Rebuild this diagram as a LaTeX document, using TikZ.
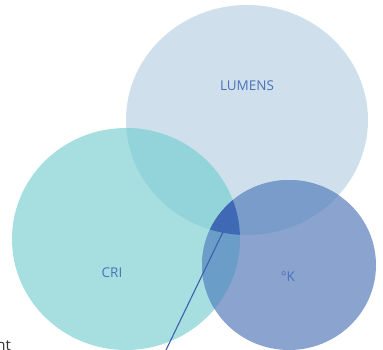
\documentclass[tikz,border=0pt]{standalone}
\usepackage{fontspec}
\setmainfont{Open Sans}
\definecolor{lonly}{HTML}{CFE0EC}
\definecolor{conly}{HTML}{A7DFE1}
\definecolor{konly}{HTML}{8BA3CF}
\definecolor{lc}{HTML}{93D3DA}
\definecolor{lk}{HTML}{7A9CCB}
\definecolor{ck}{HTML}{6A9EC8}
\definecolor{lck}{HTML}{3F69B5}
\definecolor{lbl}{HTML}{4A72B8}
\definecolor{pointer}{HTML}{3F5FAA}
\definecolor{notecol}{HTML}{333333}
\tikzset{
  setlabel/.style={text=lbl, font=\fontsize{13.5}{16}\selectfont, inner sep=0pt},
  pointerline/.style={draw=pointer, line width=1.1pt},
}
\begin{document}
\begin{tikzpicture}[x=1pt,y=-1pt]
\useasboundingbox (0,0) rectangle (383,350);
\def\Lshape{(247,120) ellipse [x radius=121, y radius=115]}
\def\Cshape{(126,239) ellipse [x radius=114, y radius=111]}
\def\Kshape{(289,265) ellipse [x radius=87, y radius=85]}
\fill[lonly] \Lshape;
\fill[conly] \Cshape;
\fill[konly] \Kshape;
\begin{scope}
  \clip \Lshape;
  \fill[lc] \Cshape;
  \fill[lk] \Kshape;
\end{scope}
\begin{scope}
  \clip \Cshape;
  \fill[ck] \Kshape;
\end{scope}
\begin{scope}
  \clip \Lshape;
  \clip \Cshape;
  \fill[lck] \Kshape;
\end{scope}
\node[setlabel] (lumens) at (247,86) {LUMENS};
\node[setlabel] (cri) at (112,273) {CRI};
\node[setlabel] (kelvin) at (288,277) {°K};
\coordinate (tip) at (223,232);
\coordinate (foot) at (166,350);
\draw[pointerline] (tip) -- (foot);
\node[text=notecol, font=\fontsize{15}{18}\selectfont, anchor=base east, inner sep=0pt] (note) at (11,350) {nt};
\end{tikzpicture}
\end{document}
